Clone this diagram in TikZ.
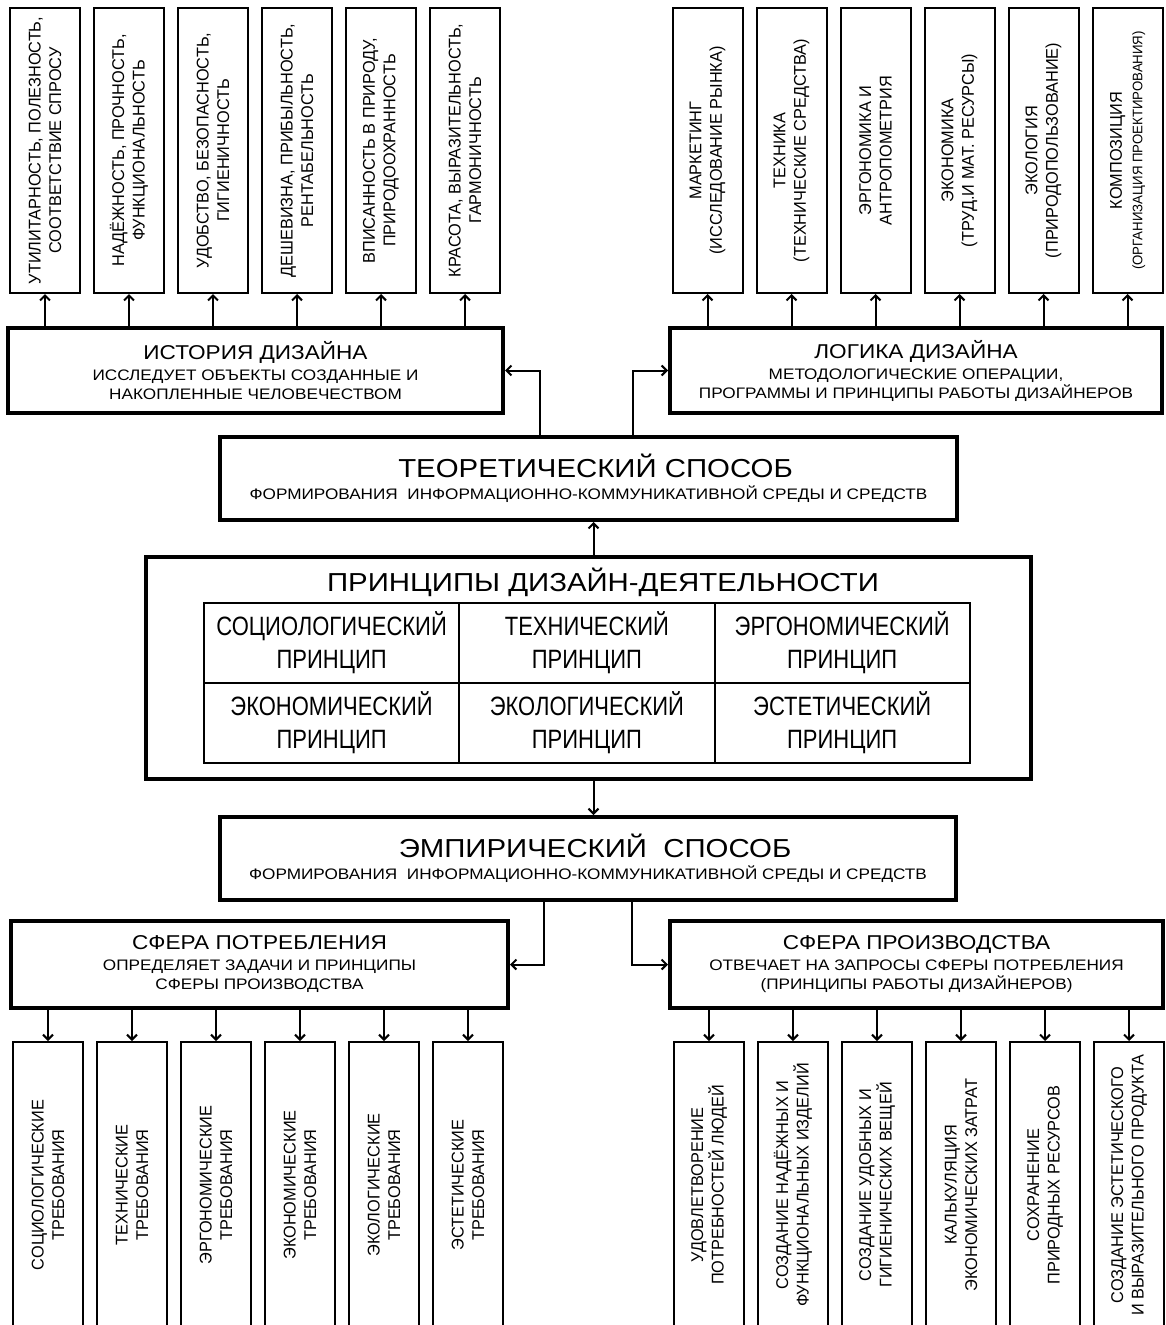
\documentclass[tikz,border=0pt]{standalone}
\usepackage{fontspec}
\setmainfont{Liberation Sans}
\newfontfamily\widefont[FakeStretch=1.13]{Liberation Sans}
\newfontfamily\narrowfont[FakeStretch=0.83]{Liberation Sans}
\newfontfamily\vertfont[FakeStretch=0.96]{Liberation Sans}
\usetikzlibrary{arrows.meta,positioning}

\newcommand{\bigtitle}{\widefont\fontsize{26}{30}\selectfont}
\newcommand{\boxtitle}{\widefont\fontsize{20}{24}\selectfont}
\newcommand{\boxsub}{\widefont\fontsize{15.2}{19}\selectfont}
\newcommand{\celltext}{\narrowfont\fontsize{26.5}{33}\selectfont}
\newcommand{\verttext}{\vertfont\fontsize{17}{20.5}\selectfont}
\newcommand{\smallvert}{\vertfont\fontsize{13.8}{16}\selectfont}

\tikzset{
  thickbox/.style={draw, line width=4pt, inner sep=0pt, align=center, font=\boxsub},
  vbox/.style={draw, line width=2pt, inner sep=0pt, align=center, rotate=90,
    minimum height=70pt, font=\verttext},
  cell/.style={draw, line width=2pt, inner sep=0pt, align=center,
    minimum width=255.3pt, minimum height=80pt, font=\celltext},
  arr/.style={line width=2pt, -{Straight Barb[length=5pt,width=10pt]}}
}

\begin{document}
\begin{tikzpicture}[x=1pt,y=-1pt]
\useasboundingbox (0,0) rectangle (1166,1325);
\clip (0,0) rectangle (1166,1325);

\node[thickbox, minimum width=495pt, minimum height=85pt] (hist) at (255.5,370.5)
  {{\boxtitle ИСТОРИЯ ДИЗАЙНА}\\[2pt]ИССЛЕДУЕТ ОБЪЕКТЫ СОЗДАННЫЕ И\\НАКОПЛЕННЫЕ ЧЕЛОВЕЧЕСТВОМ};
\node[thickbox, minimum width=492pt, minimum height=85pt] (logic) at (916,370.5)
  {{\boxtitle ЛОГИКА ДИЗАЙНА}\\[2pt]МЕТОДОЛОГИЧЕСКИЕ ОПЕРАЦИИ,\\ПРОГРАММЫ И ПРИНЦИПЫ РАБОТЫ ДИЗАЙНЕРОВ};

\foreach \t [count=\i] in {{УТИЛИТАРНОСТЬ, ПОЛЕЗНОСТЬ,\\СООТВЕТСТВИЕ СПРОСУ},
  {НАДЁЖНОСТЬ, ПРОЧНОСТЬ,\\ФУНКЦИОНАЛЬНОСТЬ}, {УДОБСТВО, БЕЗОПАСНОСТЬ,\\ГИГИЕНИЧНОСТЬ},
  {ДЕШЕВИЗНА, ПРИБЫЛЬНОСТЬ,\\РЕНТАБЕЛЬНОСТЬ}, {ВПИСАННОСТЬ В ПРИРОДУ,\\ПРИРОДООХРАННОСТЬ},
  {КРАСОТА, ВЫРАЗИТЕЛЬНОСТЬ,\\ГАРМОНИЧНОСТЬ}}
{
  \node[vbox, minimum width=285pt] (hq\i) at (-39+84*\i,150.5) {\t};
  \draw[arr] (hq\i.west |- hist.north) -- (hq\i.west);
}

\foreach \t [count=\i] in {{МАРКЕТИНГ\\(ИССЛЕДОВАНИЕ РЫНКА)}, {ТЕХНИКА\\(ТЕХНИЧЕСКИЕ СРЕДСТВА)},
  {ЭРГОНОМИКА И\\АНТРОПОМЕТРИЯ}, {ЭКОНОМИКА\\(ТРУД.И МАТ. РЕСУРСЫ)},
  {ЭКОЛОГИЯ\\(ПРИРОДОПОЛЬЗОВАНИЕ)}, {КОМПОЗИЦИЯ\\{\smallvert (ОРГАНИЗАЦИЯ ПРОЕКТИРОВАНИЯ)}}}
{
  \node[vbox, minimum width=285pt] (lg\i) at (623.5+84*\i,150.5) {\t};
  \draw[arr] (lg\i.west |- logic.north) -- (lg\i.west);
}

\node[thickbox, minimum width=737pt, minimum height=83pt] (theo) at (588.5,478.5)
  {{\bigtitle\hspace*{14pt}ТЕОРЕТИЧЕСКИЙ СПОСОБ}\\[3pt]ФОРМИРОВАНИЯ\ \ ИНФОРМАЦИОННО-КОММУНИКАТИВНОЙ СРЕДЫ И СРЕДСТВ};
\draw[arr] ([xshift=-49pt]theo.north) |- (hist.east);
\draw[arr] ([xshift=44pt]theo.north) |- (logic.west);

\node[thickbox, minimum width=885pt, minimum height=222pt] (princ) at (588.5,668) {};
\node[font=\bigtitle, inner sep=0pt] (ptitle) at (603,582) {ПРИНЦИПЫ ДИЗАЙН-ДЕЯТЕЛЬНОСТИ};
\node[cell] (c11) at (331.6,643) {СОЦИОЛОГИЧЕСКИЙ\\ПРИНЦИП};
\node[cell] (c12) at (586.9,643) {ТЕХНИЧЕСКИЙ\\ПРИНЦИП};
\node[cell] (c13) at (842.2,643) {ЭРГОНОМИЧЕСКИЙ\\ПРИНЦИП};
\node[cell] (c21) at (331.6,723) {ЭКОНОМИЧЕСКИЙ\\ПРИНЦИП};
\node[cell] (c22) at (586.9,723) {ЭКОЛОГИЧЕСКИЙ\\ПРИНЦИП};
\node[cell] (c23) at (842.2,723) {ЭСТЕТИЧЕСКИЙ\\ПРИНЦИП};
\draw[arr] ([xshift=5pt]princ.north) -- ([xshift=5pt]princ.north |- theo.south);

\node[thickbox, minimum width=736pt, minimum height=83pt] (emp) at (588,858.5)
  {{\bigtitle\hspace*{14pt}ЭМПИРИЧЕСКИЙ\ \ СПОСОБ}\\[3pt]ФОРМИРОВАНИЯ\ \ ИНФОРМАЦИОННО-КОММУНИКАТИВНОЙ СРЕДЫ И СРЕДСТВ};
\draw[arr] ([xshift=5pt]princ.south) -- ([xshift=5pt]princ.south |- emp.north);

\node[thickbox, minimum width=497pt, minimum height=87pt] (cons) at (259.5,964.5)
  {{\boxtitle СФЕРА ПОТРЕБЛЕНИЯ}\\[2pt]ОПРЕДЕЛЯЕТ ЗАДАЧИ И ПРИНЦИПЫ\\СФЕРЫ ПРОИЗВОДСТВА};
\node[thickbox, minimum width=493pt, minimum height=87pt] (prod) at (916.5,964.5)
  {{\boxtitle СФЕРА ПРОИЗВОДСТВА}\\[2pt]ОТВЕЧАЕТ НА ЗАПРОСЫ СФЕРЫ ПОТРЕБЛЕНИЯ\\(ПРИНЦИПЫ РАБОТЫ ДИЗАЙНЕРОВ)};
\draw[arr] ([xshift=-44pt]emp.south) |- (cons.east);
\draw[arr] ([xshift=44pt]emp.south) |- (prod.west);

\foreach \t [count=\i] in {{СОЦИОЛОГИЧЕСКИЕ\\ТРЕБОВАНИЯ}, {ТЕХНИЧЕСКИЕ\\ТРЕБОВАНИЯ},
  {ЭРГОНОМИЧЕСКИЕ\\ТРЕБОВАНИЯ}, {ЭКОНОМИЧЕСКИЕ\\ТРЕБОВАНИЯ},
  {ЭКОЛОГИЧЕСКИЕ\\ТРЕБОВАНИЯ}, {ЭСТЕТИЧЕСКИЕ\\ТРЕБОВАНИЯ}}
{
  \node[vbox, minimum width=286pt] (rq\i) at (-36+84*\i,1185) {\t};
  \draw[arr] (rq\i.east |- cons.south) -- (rq\i.east);
}

\foreach \t [count=\i] in {{УДОВЛЕТВОРЕНИЕ\\ПОТРЕБНОСТЕЙ ЛЮДЕЙ}, {СОЗДАНИЕ НАДЁЖНЫХ И\\ФУНКЦИОНАЛЬНЫХ ИЗДЕЛИЙ},
  {СОЗДАНИЕ УДОБНЫХ И\\ГИГИЕНИЧЕСКИХ ВЕЩЕЙ}, {КАЛЬКУЛЯЦИЯ\\ЭКОНОМИЧЕСКИХ ЗАТРАТ},
  {СОХРАНЕНИЕ\\ПРИРОДНЫХ РЕСУРСОВ}, {СОЗДАНИЕ ЭСТЕТИЧЕСКОГО\\И ВЫРАЗИТЕЛЬНОГО ПРОДУКТА}}
{
  \node[vbox, minimum width=286pt] (pw\i) at (625+84*\i,1185) {\t};
  \draw[arr] (pw\i.east |- prod.south) -- (pw\i.east);
}
\end{tikzpicture}
\end{document}
